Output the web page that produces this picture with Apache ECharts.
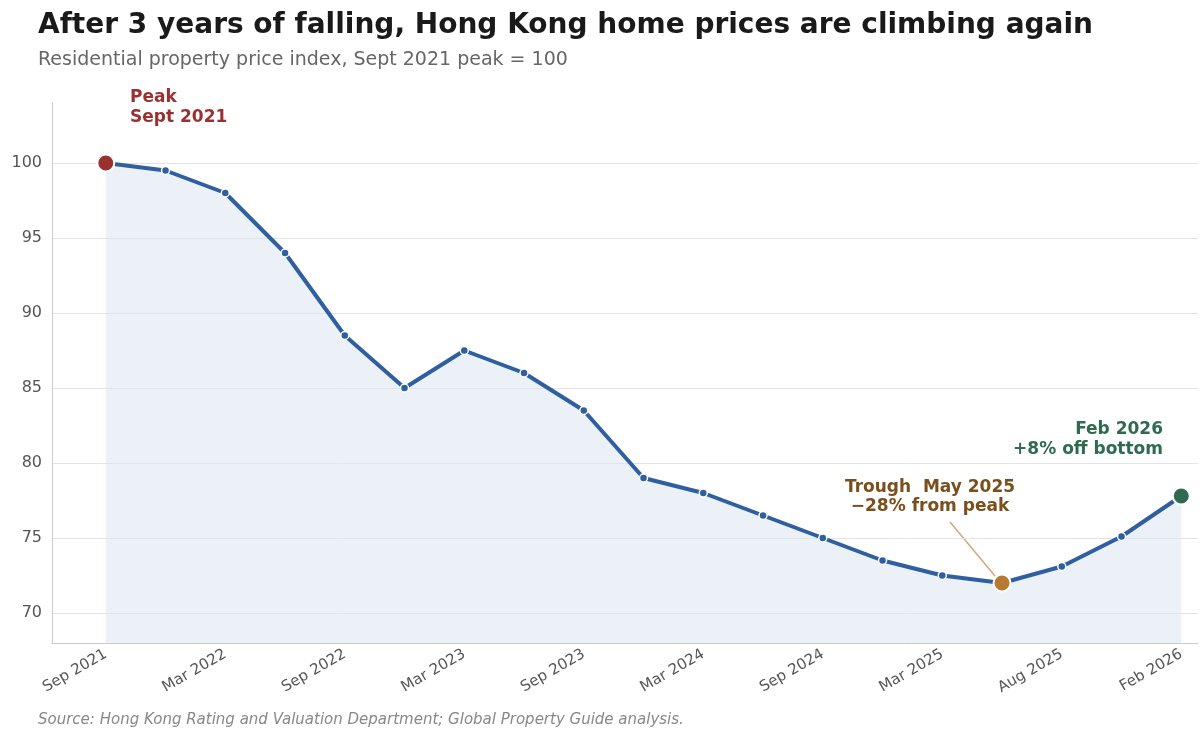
<!DOCTYPE html>
<html><head><meta charset="utf-8">
<script src="https://cdn.jsdelivr.net/npm/echarts@6/dist/echarts.min.js"></script>
<style>html,body{margin:0;background:#fff}#c{width:1200px;height:739px}</style>
</head><body><div id="c"></div>
<script>
// months on the x axis (quarterly, with an irregular step near the trough)
const months = ['Sep 2021','Dec 2021','Mar 2022','Jun 2022','Sep 2022','Dec 2022','Mar 2023','Jun 2023','Sep 2023',
  'Dec 2023','Mar 2024','Jun 2024','Sep 2024','Dec 2024','Mar 2025','May 2025','Aug 2025','Nov 2025','Feb 2026'];
// index, Sept 2021 = 100
const priceIndex = [100, 99.5, 98, 94, 88.5, 85, 87.5, 86, 83.5, 79, 78, 76.5, 75, 73.5, 72.5, 72, 73.1, 75.1, 77.8];
const yTicks = [70, 75, 80, 85, 90, 95, 100];
const xTicks = [0, 2, 4, 6, 8, 10, 12, 14, 16, 18];
const peakIdx = 0, troughIdx = 15, lastIdx = 18;

const chart = echarts.init(document.getElementById('c'));
const pts = priceIndex.map((v, i) => [i, v]);
const dot = (i, color) => ({ coord: [i, priceIndex[i]], symbol: 'circle', symbolSize: 17,
  itemStyle: { color: color, borderColor: '#fff', borderWidth: 2 } });

chart.setOption({
  textStyle: { fontFamily: 'DejaVu Sans' },
  title: [
    { text: 'After 3 years of falling, Hong Kong home prices are climbing again', left: 33, top: 7,
      textStyle: { fontSize: 28, fontWeight: 'bold', color: '#1a1a1a' } },
    { text: 'Residential property price index, Sept 2021 peak = 100', left: 33, top: 46,
      textStyle: { fontSize: 19, fontWeight: 'normal', color: '#666' } },
    { text: 'Source: Hong Kong Rating and Valuation Department; Global Property Guide analysis.', left: 33, top: 708,
      textStyle: { fontSize: 15, fontStyle: 'italic', fontWeight: 'normal', color: '#888' } }
  ],
  grid: { left: 52, right: 2, top: 103, bottom: 96 },
  xAxis: {
    type: 'value', min: -0.9, max: 18.28,
    axisLine: { onZero: false, lineStyle: { color: '#ccc' } },
    axisTick: { show: false, customValues: xTicks },
    splitLine: { show: false },
    axisLabel: { customValues: xTicks, rotate: 30, fontSize: 15, color: '#555', margin: 10,
      formatter: v => months[v] || '' }
  },
  yAxis: {
    type: 'value', min: 68, max: 104,
    axisLine: { show: true, onZero: false, lineStyle: { color: '#ccc' } },
    axisTick: { show: false, customValues: yTicks },
    splitLine: { show: true, lineStyle: { color: '#e3e3e3' } },
    axisLabel: { customValues: yTicks, fontSize: 16, color: '#555', margin: 10 }
  },
  series: [{
    type: 'line', data: pts,
    lineStyle: { color: '#2f5f9f', width: 4 },
    symbol: 'circle', symbolSize: 8,
    itemStyle: { color: '#2f5f9f', borderColor: '#fff', borderWidth: 1.5 },
    areaStyle: { color: '#dbe5ef', opacity: 0.55 },
    markPoint: { label: { show: false }, data: [dot(peakIdx, '#9b3030'), dot(troughIdx, '#b87a33'), dot(lastIdx, '#2e6b50')] },
    z: 3
  }],
  graphic: [
    { type: 'text', left: 130, top: 88, style: { text: 'Peak\nSept 2021', fill: '#9b3030',
      font: 'bold 17px DejaVu Sans', lineHeight: 20 } },
    { type: 'text', x: 930, y: 478, style: { text: 'Trough  May 2025\n\u221228% from peak', fill: '#7a4f1c',
      font: 'bold 17px DejaVu Sans', lineHeight: 19, align: 'center' } },
    { type: 'line', shape: { x1: 950, y1: 522, x2: 995, y2: 576 }, style: { stroke: '#d2a878', lineWidth: 1.5 } },
    { type: 'text', x: 1163, y: 420, style: { text: 'Feb 2026\n+8% off bottom', fill: '#2e6b50',
      font: 'bold 17px DejaVu Sans', lineHeight: 20, align: 'right' } }
  ]
});
</script></body></html>
